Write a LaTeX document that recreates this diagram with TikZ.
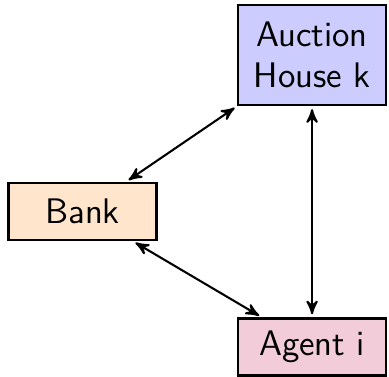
\documentclass[tikz,border=0pt]{standalone}
\usepackage{amsmath}
\usepackage{tikz}
\usetikzlibrary{arrows,positioning}

\begin{document}
\begin{tikzpicture}[>=stealth',shorten >=1pt,shorten <=1pt,auto,on grid,
    party/.style={draw, thick, minimum width=50pt, minimum height=19.3pt,
                  align=center, font=\sffamily\large}]
  \useasboundingbox (-105.5pt,-108.8pt) rectangle (26pt,18.6pt);

  \node[party, fill=blue!20, minimum height=33.8pt] (auction) at (0,0) {Auction\\House k};
  \node[party, fill=purple!20] (agent) [below=98.7pt of auction]               {Agent i};
  \node[party, fill=orange!20] (bank)  [below left=52.9pt and 77.6pt of auction] {Bank};

  \draw[<->, line width=0.7pt]
      (bank)    edge (auction)
                edge (agent)
      (auction) edge (agent);

\end{tikzpicture}
\end{document}
